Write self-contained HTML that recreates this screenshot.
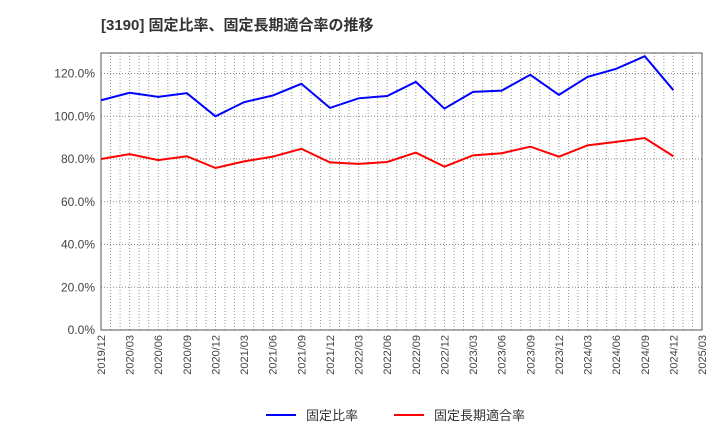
<!DOCTYPE html>
<html><head><meta charset="utf-8"><style>
body{margin:0;background:#fff;}
svg text{font-family:"Liberation Sans","Noto Sans CJK JP",sans-serif;}
</style></head><body>
<svg width="720" height="440" id="c">
<text x="101" y="30" font-size="15" font-weight="bold" fill="#333">[3190]  固定比率、固定長期適合率の推移</text>
<g id="grid"></g><g id="axes"></g><g id="series"></g>
<g>
<line x1="266" y1="415" x2="296" y2="415" stroke="#0000ff" stroke-width="2"/>
<text x="306" y="420" font-size="13" fill="#333">固定比率</text>
<line x1="394" y1="415" x2="424" y2="415" stroke="#ff0000" stroke-width="2"/>
<text x="434" y="420" font-size="13" fill="#333">固定長期適合率</text>
</g>
</svg>
<script>
const categories=["2019/12","2020/03","2020/06","2020/09","2020/12","2021/03","2021/06","2021/09","2021/12","2022/03","2022/06","2022/09","2022/12","2023/03","2023/06","2023/09","2023/12","2024/03","2024/06","2024/09","2024/12","2025/03"];
const fixedRatio=[107.5,111.0,109.1,110.8,100.0,106.6,109.7,115.2,103.9,108.4,109.5,116.1,103.6,111.4,112.0,119.4,110.0,118.4,122.2,128.1,112.2];
const longTermRatio=[80.0,82.3,79.5,81.3,75.8,78.9,81.1,84.8,78.4,77.7,78.6,83.0,76.4,81.7,82.7,85.8,81.1,86.4,88.0,89.8,81.3];
const yTicks=[0,20,40,60,80,100,120];
const yTickLabels=["0.0%","20.0%","40.0%","60.0%","80.0%","100.0%","120.0%"];
const L=101,R=702,T=53,B=330,yMax=129.6;
const ns="http://www.w3.org/2000/svg";
const xs=i=>L+(R-L)*i/(categories.length-1);
const ys=v=>B-(B-T)*v/yMax;
function mk(tag,attrs,parent){const e=document.createElementNS(ns,tag);for(const k in attrs)e.setAttribute(k,attrs[k]);document.getElementById(parent).appendChild(e);return e;}
// monthly vertical dotted grid
for(let m=1;m<(categories.length-1)*3;m++){
 const x=L+(R-L)*m/((categories.length-1)*3);
 const g=mk('line',{x1:x,x2:x,y1:T,y2:B,stroke:'#999','stroke-dasharray':'1,2','stroke-width':1},'grid');
 
 
}
yTicks.forEach((v,i)=>{
 const y=ys(v);
 const g=mk('line',{x1:L,x2:R,y1:y,y2:y,stroke:'#888','stroke-dasharray':'1,2','stroke-width':1},'grid');
 
 
 const t=mk('text',{x:L-6,y:y+4,'text-anchor':'end','font-size':12,fill:'#444'},'axes');
 t.textContent=yTickLabels[i];
 
 
});
const fr=mk('rect',{x:L,y:T,width:R-L,height:B-T,fill:'none',stroke:'#555','stroke-width':1},'axes');


categories.forEach((c,i)=>{
 const x=xs(i);
 const t=mk('text',{transform:`translate(${x+4},${B+5}) rotate(-90)`,'text-anchor':'end','font-size':11,fill:'#444'},'axes');
 t.textContent=c;
 
 
});
function line(data,color,name){
 const p=mk('polyline',{points:data.map((v,i)=>xs(i)+','+ys(v)).join(' '),fill:'none',stroke:color,'stroke-width':2},'series');
 
 
}
line(fixedRatio,'#0000ff','fixed-ratio-line');
line(longTermRatio,'#ff0000','long-term-ratio-line');
</script>
</body></html>
